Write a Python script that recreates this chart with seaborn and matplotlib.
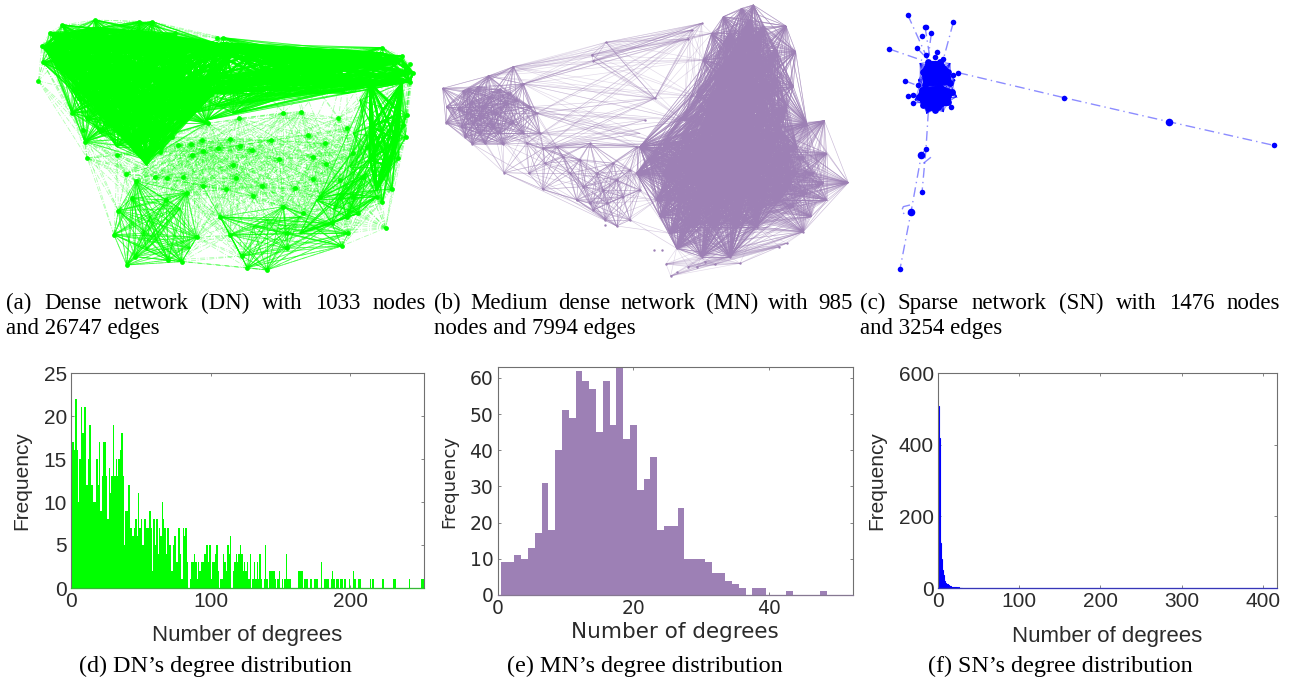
from itertools import combinations, product

import matplotlib
matplotlib.use("Agg")
import matplotlib.pyplot as plt
from matplotlib.collections import LineCollection
import numpy as np
import seaborn as sns

W, H = 1299, 683

# degree histograms
dn_freq = [
    15, 17, 16, 22, 16, 10, 15, 21, 18, 21,
    21, 12, 15, 19, 12, 12, 10, 10, 15, 12,
    17, 9, 13, 17, 17, 13, 8, 14, 11, 13,
    19, 13, 15, 13, 15, 16, 18, 13, 5, 9,
    9, 12, 7, 7, 6, 7, 8, 6, 11, 7,
    8, 5, 8, 8, 7, 7, 9, 7, 2, 8,
    5, 8, 4, 7, 6, 10, 8, 7, 4, 7,
    5, 5, 2, 5, 6, 3, 3, 7, 4, 1,
    7, 6, 7, 3, 0, 1, 3, 3, 4, 3,
    1, 3, 2, 3, 3, 4, 4, 5, 3, 5,
    1, 3, 3, 4, 5, 2, 0, 1, 1, 4,
    3, 2, 5, 4, 6, 0, 2, 3, 4, 3,
    4, 5, 4, 2, 3, 2, 3, 1, 4, 0,
    1, 3, 1, 3, 1, 4, 1, 0, 1, 5,
    1, 0, 2, 2, 2, 2, 1, 0, 1, 2,
    0, 1, 0, 1, 4, 1, 1, 1, 0, 0,
    0, 0, 0, 2, 2, 2, 0, 1, 1, 1,
    0, 1, 1, 0, 1, 1, 1, 0, 0, 3,
    0, 1, 1, 1, 1, 0, 1, 2, 1, 0,
    1, 1, 0, 1, 1, 0, 1, 0, 0, 1,
    0, 0, 2, 1, 0, 0, 1, 1, 0, 0,
    0, 0, 0, 0, 1, 0, 1, 0, 0, 0,
    0, 0, 0, 1, 0, 0, 0, 0, 0, 0,
    0, 1, 1, 0, 0, 0, 0, 0, 0, 0,
    0, 0, 1, 0, 0, 0, 0, 0, 0, 0,
    0, 1, 1,
]
mn_freq = [
    9, 9, 11, 10, 13, 17, 31, 18, 40, 51,
    49, 62, 59, 57, 45, 59, 47, 64, 43, 47,
    29, 32, 38, 18, 19, 19, 24, 10, 10, 10,
    9, 6, 6, 4, 3, 2, 0, 2, 2, 0,
    0, 0, 1, 0, 0, 0, 0, 1,
]
sn_freq = [508, 420, 130, 125, 80, 50, 35, 25, 20, 15, 12, 10, 8, 7, 6, 5, 4, 4, 3, 3, 3, 2, 2, 2, 1, 2, 1, 1, 1, 1]

# network nodes, in layout units
dn_outer = [(115, 243), (128, 187), (125, 138), (150, 98), (187, 75), (285, 60), (418, 65), (457, 65), (525, 100),
            (650, 115), (668, 113), (868, 152), (1043, 155), (1147, 143), (1205, 168), (1230, 192), (1238, 218),
            (1230, 245), (1220, 345), (1210, 375), (1217, 410), (1195, 475), (1175, 568), (1147, 605), (1157, 684),
            (1045, 700), (1025, 738), (860, 745), (800, 810), (742, 803), (725, 768), (545, 785), (505, 780),
            (380, 795), (405, 770), (342, 704), (355, 632), (408, 543), (378, 522), (352, 465), (262, 475),
            (255, 425), (250, 390), (215, 338), (222, 268)]
dn_inner = [(535, 435), (572, 433), (606, 420), (690, 418), (720, 437), (812, 420), (925, 405), (975, 430), (755, 450),
            (655, 445), (610, 452), (575, 465), (480, 455), (700, 495), (838, 478), (938, 470), (978, 493), (465, 532),
            (500, 535), (550, 532), (608, 557), (678, 568), (708, 535), (760, 588), (787, 558), (885, 565), (940, 537),
            (560, 578), (498, 600), (395, 595), (850, 338), (903, 335), (718, 355), (625, 370), (1015, 355), (1040, 385),
            (515, 410), (850, 620), (660, 650), (590, 712), (690, 705), (860, 700), (995, 670), (1040, 650), (1075, 640),
            (1130, 590), (1090, 530), (1060, 590), (1020, 540), (1100, 440), (1060, 460), (960, 590), (910, 640)]
dn_topleft = [(135, 140), (170, 105), (285, 85), (420, 95), (525, 115), (650, 130),
              (700, 150), (640, 280), (600, 310), (520, 345), (480, 410), (440, 480), (400, 440), (330, 370), (280, 310),
              (240, 240), (160, 180), (300, 150), (400, 200), (500, 220), (350, 280), (430, 330), (560, 170), (220, 130)]
dn_tl_fringe = [(235, 300), (260, 360), (300, 400), (350, 440), (420, 470), (440, 495), (485, 450), (520, 390), (560, 350),
                (222, 268), (215, 338), (255, 425), (620, 370), (150, 98), (187, 75), (285, 60), (418, 65), (457, 65), (525, 100),
                (125, 138), (128, 187)]
dn_band = [(600, 140), (668, 130), (760, 160), (868, 175), (960, 190), (1043, 185), (1147, 160), (1205, 180), (1238, 218),
           (1230, 245), (1100, 255), (1000, 245), (900, 235), (800, 235), (700, 245), (600, 280), (520, 250)]
dn_band_fringe = [(560, 340), (650, 320), (720, 310), (800, 290), (880, 285), (960, 280), (1040, 280), (620, 360), (700, 340),
                  (668, 113), (760, 135), (868, 152), (960, 155), (1043, 155), (1147, 143), (1205, 168)]
dn_right = [(1110, 250), (1205, 250), (1200, 340), (1190, 420), (1170, 500), (1130, 570), (1110, 480), (1115, 380)]
dn_right_fringe = [(1220, 345), (1210, 375), (1217, 410), (1195, 475), (1175, 568), (1080, 300), (1060, 400), (1050, 500),
                   (1020, 600), (1147, 605), (960, 590), (1040, 650), (1000, 630)]
dn_fan = [(355, 632), (408, 543), (395, 595), (498, 600), (560, 578), (540, 625), (342, 704), (380, 795), (405, 770),
          (440, 750), (505, 780), (545, 785), (570, 745), (590, 712), (450, 650), (430, 700), (470, 720)]
dn_bottom = [(660, 650), (850, 620), (995, 670), (1045, 700), (1025, 738), (860, 745), (800, 810), (742, 803), (725, 768),
             (690, 705), (860, 700), (760, 680), (800, 660), (900, 650)]
dn_lower_right = [(1130, 590), (1040, 650), (995, 670), (900, 700), (950, 600), (1075, 640), (1100, 520), (1020, 580)]

mn_left = [(38, 265), (50, 320), (48, 368), (100, 272), (115, 267), (145, 260), (175, 228), (250, 200), (280, 252),
           (320, 340), (105, 410), (127, 432), (165, 430), (220, 432), (85, 325), (95, 380), (210, 268), (300, 320),
           (330, 400), (150, 350), (200, 340), (250, 370), (180, 290), (120, 310), (130, 370), (160, 320), (230, 310),
           (190, 380), (110, 340), (150, 400), (260, 300), (280, 400), (210, 400), (240, 280)]
mn_strand = [(290, 430), (340, 445), (222, 518), (297, 520), (338, 568), (440, 600), (480, 610), (490, 630), (525, 660),
             (560, 678), (600, 660), (345, 490), (400, 470), (460, 560), (480, 430), (550, 490), (600, 510), (620, 440),
             (580, 590), (530, 610), (420, 520), (500, 520), (380, 440), (450, 480), (560, 540), (630, 570), (520, 570)]
mn_top = [(528, 127), (490, 183), (485, 165), (675, 295), (785, 90), (775, 117), (815, 70)]
mn_span_left = [(320, 340), (300, 320), (330, 400), (340, 445), (380, 440)]
mn_span_right = [(620, 440), (630, 400), (700, 430), (675, 295), (645, 360), (760, 360)]
mn_arm = [(970, 15), (935, 25), (880, 50), (845, 100), (820, 180), (800, 290), (760, 360), (1068, 78), (1097, 155),
          (1090, 260), (1130, 370), (950, 100), (950, 200), (950, 300), (950, 400), (1000, 250), (900, 450), (1050, 400),
          (900, 100), (1000, 80), (1040, 150), (880, 200), (860, 280), (1040, 240), (920, 150), (990, 160), (1000, 350),
          (900, 330), (840, 380), (1070, 320), (960, 60), (930, 270)]
mn_center = [(620, 520), (680, 600), (720, 700), (740, 745), (815, 770), (900, 770), (980, 680), (1050, 600), (700, 430),
             (630, 440), (850, 500), (900, 450), (950, 400), (1050, 400), (800, 600), (900, 600), (1000, 500), (700, 520),
             (780, 520), (760, 400), (850, 680), (660, 480), (740, 600), (800, 440), (880, 540), (950, 560), (1020, 440),
             (780, 680), (920, 680), (1080, 480), (830, 600), (750, 480), (960, 470), (690, 650), (860, 420), (1080, 560),
             (1000, 620), (1100, 440)]
mn_right = [(1120, 695), (1143, 650), (1190, 600), (1255, 548), (1190, 460), (1183, 362), (1130, 370), (1100, 520), (1050, 580),
            (1000, 500), (1050, 400), (1150, 520), (1130, 580), (1180, 550), (1090, 620), (1120, 470)]
mn_bottom = [(708, 792), (722, 828), (775, 800), (800, 800), (825, 785), (855, 793), (930, 790), (1048, 740), (1070, 730),
             (740, 745), (815, 770), (900, 770), (980, 680), (1120, 695)]
mn_stray = [(672, 750), (695, 750), (740, 815), (525, 675), (645, 360)]

sn_upper = [(205, 185), (240, 185), (265, 215), (270, 250), (195, 255), (190, 215), (225, 225), (215, 200), (240, 240), (250, 210),
            (205, 235), (230, 195), (255, 230)]
sn_lower = [(185, 270), (240, 260), (275, 275), (265, 305), (225, 330), (190, 315), (178, 290), (220, 290), (245, 300), (200, 300),
            (215, 270), (235, 320), (205, 325), (255, 280)]
sn_ring = [(180, 190), (175, 240), (285, 240), (290, 290), (165, 300), (200, 340), (250, 335), (270, 190)]
sn_leaves = [(143, 44), (280, 67), (195, 80), (198, 82), (214, 100), (186, 108), (88, 147), (171, 144), (230, 155), (198, 166),
             (225, 170), (250, 178), (295, 218), (280, 225), (136, 243), (175, 256), (143, 287), (160, 284), (159, 309), (257, 309),
             (272, 321), (612, 293), (1241, 436), (198, 446), (186, 577), (120, 807)]
sn_big_leaves = [(926, 365), (184, 465), (153, 636)]
sn_arms = [[(295, 218), (612, 293), (926, 365), (1241, 436)],
           [(205, 335), (198, 446), (184, 465), (153, 636), (120, 807)],
           [(198, 446), (186, 577)], [(190, 490), (215, 470)],
           [(143, 44), (198, 166)], [(280, 67), (250, 178)], [(88, 147), (198, 185)],
           [(214, 100), (205, 170)], [(195, 80), (210, 175)], [(171, 144), (205, 180)],
           [(136, 243), (195, 265)], [(143, 287), (200, 290)], [(159, 309), (200, 305)],
           [(150, 615), (130, 620), (125, 632), (135, 645), (150, 640)]]

degree_ticks = {"dn": [0, 100, 200], "mn": [0, 20, 40], "sn": [0, 100, 200, 300, 400]}
freq_ticks = {"dn": [0, 5, 10, 15, 20, 25], "mn": [0, 10, 20, 30, 40, 50, 60], "sn": [0, 200, 400, 600]}

GREEN, PURPLE, BLUE = "#00ff00", "#9d80b5", "#0000ff"

sns.set_theme(style="ticks")
plt.rcParams["font.family"] = ["Liberation Sans", "DejaVu Sans"]
plt.rcParams["xtick.direction"] = "in"
plt.rcParams["ytick.direction"] = "in"
plt.rcParams["axes.edgecolor"] = "#707070"
plt.rcParams["axes.linewidth"] = 0.8

fig = plt.figure(figsize=(W / 100, H / 100), dpi=100)


def px_axes(left, top, right, bottom):
    return fig.add_axes([left / W, 1 - bottom / H, (right - left) / W, (bottom - top) / H])


def layout_axes(left):
    ax = px_axes(left, 0, left + 440, 290)
    ax.set_xlim(0, 1320)
    ax.set_ylim(870, 0)
    ax.axis("off")
    return ax


def all_pairs(*clusters):
    return [pair for c in clusters for pair in combinations(c, 2)]


def near_pairs(nodes, reach):
    return [(a, b) for a, b in combinations(nodes, 2) if np.hypot(a[0] - b[0], a[1] - b[1]) < reach]


def draw_edges(ax, edges, color, lw, alpha, ls="solid"):
    ax.add_collection(LineCollection(edges, colors=color, linewidths=lw, alpha=alpha, linestyles=ls))


def draw_nodes(ax, nodes, color, size):
    xs, ys = zip(*nodes)
    sns.scatterplot(x=list(xs), y=list(ys), color=color, s=size, linewidth=0, ax=ax, legend=False)
    ax.set_xlim(0, 1320)
    ax.set_ylim(870, 0)


# (a) dense network
ax = layout_axes(0)
dn_nodes = dn_outer + dn_inner
dash = (0, (6, 2, 1, 2))
draw_edges(ax, near_pairs(dn_nodes, 300), GREEN, 0.6, 0.3, dash)
draw_edges(ax, all_pairs(dn_fan, dn_bottom) * 2, GREEN, 0.6, 0.4)
draw_edges(ax, all_pairs(dn_lower_right) * 3, GREEN, 0.7, 0.5)
draw_edges(ax, list(product(dn_tl_fringe, dn_topleft)) * 2, GREEN, 0.7, 0.5)
draw_edges(ax, list(product(dn_band_fringe, dn_band)) * 2, GREEN, 0.7, 0.5)
draw_edges(ax, list(product(dn_right_fringe, dn_right)) * 2, GREEN, 0.7, 0.5)
draw_edges(ax, all_pairs(dn_topleft, dn_band, dn_right) * 4, GREEN, 1.4, 0.85)
draw_nodes(ax, dn_nodes, GREEN, 12)

# (b) medium network
ax = layout_axes(430)
thin = dict(color=PURPLE, lw=0.45)
draw_edges(ax, near_pairs(mn_left, 170), alpha=0.55, **thin)
draw_edges(ax, near_pairs(mn_left + mn_strand, 150), alpha=0.4, **thin)
draw_edges(ax, near_pairs(mn_strand + mn_center[:12], 170), alpha=0.4, **thin)
draw_edges(ax, list(product(mn_span_left, mn_span_right)), alpha=0.4, **thin)
draw_edges(ax, all_pairs(mn_bottom), alpha=0.3, **thin)
draw_edges(ax, all_pairs(mn_arm, mn_center) * 2, alpha=0.55, **thin)
draw_edges(ax, all_pairs(mn_right), alpha=0.55, **thin)
draw_edges(ax, list(product(mn_right, mn_center)), alpha=0.5, **thin)
draw_edges(ax, list(product(mn_arm[11:], mn_center)) * 2, alpha=0.55, **thin)
draw_edges(ax, list(product(mn_top + mn_left[6:9], mn_top + mn_arm[3:7])), alpha=0.3, **thin)
draw_edges(ax, list(product(mn_left[8:10] + mn_strand[:2], mn_top[3:] + mn_center[8:10])), alpha=0.3, **thin)
draw_edges(ax, [((127, 432), (525, 660)), ((222, 518), (560, 678)), ((528, 127), (675, 295))], alpha=0.5, **thin)
draw_nodes(ax, mn_left + mn_strand + mn_top + mn_bottom + mn_stray, PURPLE, 3)

# (c) sparse network
ax = layout_axes(860)
draw_edges(ax, list(product(sn_ring, sn_upper + sn_lower)), BLUE, 0.5, 0.3)
draw_edges(ax, all_pairs(sn_upper, sn_lower) * 3, BLUE, 2.2, 0.8)
for arm in sn_arms:
    draw_edges(ax, [arm], BLUE, 1.0, 0.45, (0, (7, 3, 1, 3)))
draw_nodes(ax, sn_upper + sn_lower, BLUE, 24)
draw_nodes(ax, sn_leaves, BLUE, 16)
draw_nodes(ax, sn_big_leaves, BLUE, 30)


def degree_hist(left, top, right, bottom, freq, color, xmax, ymax, key, start, family, sizes, xpad, ypad, edge=0):
    ax = px_axes(left, top, right, bottom)
    degrees = np.arange(1, len(freq) + 1)
    sns.histplot(x=degrees + start - 0.5, weights=freq, binwidth=1, binrange=(start, start + len(freq)),
                 color=color, edgecolor=color, alpha=1, linewidth=edge, ax=ax)
    ax.set_xlim(0, xmax)
    ax.set_ylim(0, ymax)
    ax.set_xticks(degree_ticks[key])
    ax.set_yticks(freq_ticks[key])
    ax.tick_params(top=True, right=True, length=2.5, width=0.6, color="#707070", labelsize=sizes[0], labelcolor="#2b2b2b", pad=3)
    for label in ax.get_xticklabels() + ax.get_yticklabels():
        label.set_family(family)
    ax.set_xlabel("Number of degrees", fontsize=sizes[1], family=family, color="#2b2b2b", labelpad=xpad)
    ax.set_ylabel("Frequency", fontsize=sizes[2], family=family, color="#2b2b2b", labelpad=ypad)
    ax.axhline(0, color=color, lw=1.0, alpha=0.5, zorder=3, clip_on=False)
    return ax


degree_hist(71, 373, 424, 588, dn_freq, GREEN, 253, 25, "dn", 0, "Liberation Sans", (15, 16, 15), 10, 9)
degree_hist(497.5, 367, 853, 595, mn_freq, PURPLE, 52.3, 63, "mn", 0.5, "DejaVu Sans", (13.5, 15.5, 13), 3, 8)
degree_hist(938, 373, 1277, 588, sn_freq, BLUE, 417.6, 600, "sn", 0, "Liberation Sans", (15, 16, 15), 11, 9, edge=0.8)


# captions
CAPTION = dict(family=["Liberation Serif", "DejaVu Serif"], fontsize=16.5, color="black", va="baseline")


def justified(line, x0, x1, y):
    renderer = fig.canvas.get_renderer()
    items = [fig.text(0, 1 - y / H, word, **CAPTION) for word in line.split()]
    widths = [t.get_window_extent(renderer).width for t in items]
    gap = (x1 - x0 - sum(widths)) / (len(items) - 1)
    x = x0
    for t, width in zip(items, widths):
        t.set_x(x / W)
        x += width + gap


def plain(line, x0, y, size=16.5):
    fig.text(x0 / W, 1 - y / H, line, **{**CAPTION, "fontsize": size})


justified("(a) Dense network (DN) with 1033 nodes", 6, 426, 309)
plain("and 26747 edges", 6, 334)
justified("(b) Medium dense network (MN) with 985", 434, 853, 309)
plain("nodes and 7994 edges", 434, 334)
justified("(c) Sparse network (SN) with 1476 nodes", 860, 1280, 309)
plain("and 3254 edges", 860, 334)
plain("(d) DN’s degree distribution", 79, 672, 17.4)
plain("(e) MN’s degree distribution", 507, 672, 17.4)
plain("(f) SN’s degree distribution", 928, 672, 17.4)

fig.savefig("out.png", dpi=100)
